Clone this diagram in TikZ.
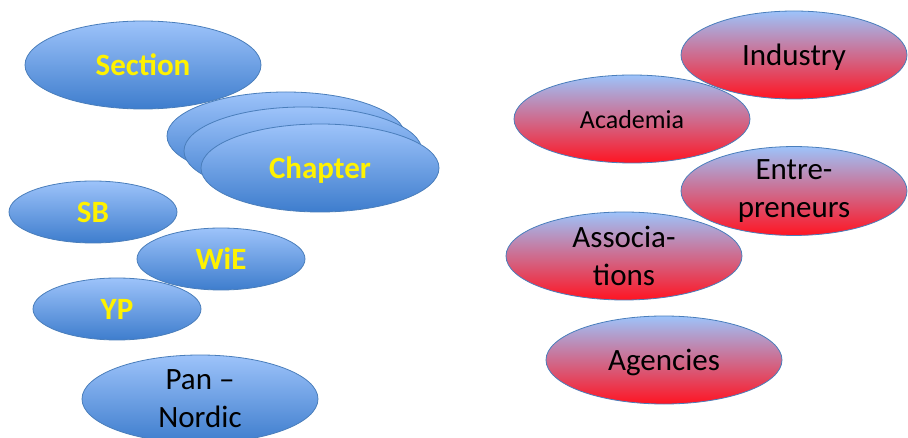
\documentclass[tikz,border=0pt]{standalone}
\usepackage{fontspec}
\setmainfont{Carlito}
\usepackage{xcolor}
\usetikzlibrary{shapes.geometric}

\definecolor{bluetop}{HTML}{9DC3FA}
\definecolor{bluebot}{HTML}{3E7DCD}
\definecolor{redbot}{HTML}{FF1422}
\definecolor{rimblue}{HTML}{4A7EBB}

\begin{document}
\begin{tikzpicture}[x = 1pt, y = -1pt,
        blob/.style = {ellipse, draw = rimblue, line width = 0.8pt, inner sep = 0pt, align = center,
            minimum width = 236pt, minimum height = 88pt},
        blueblob/.style = {blob, top color = bluetop, bottom color = bluebot, text = yellow,
            font = \fontsize{31}{38}\selectfont\bfseries},
        redblob/.style = {blob, top color = bluetop, bottom color = redbot, text = black,
            font = \fontsize{31}{38}\selectfont},
        small/.style = {minimum width = 168pt, minimum height = 62pt},
        oneline/.style = {text depth = 0pt}]
        \useasboundingbox (0,0) rectangle (908,438);

        \node [blueblob, oneline] (Sec) at (143,65) {Section};
        \node [blueblob, minimum width = 238pt] (ChB) at (286,136) {};
        \node [blueblob, minimum width = 238pt] (ChM) at (303,151) {};
        \node [blueblob, oneline, minimum width = 238pt] (Ch) at (320,168) {Chapter};
        \node [blueblob, small, oneline] (SB) at (93,212) {SB};
        \node [blueblob, small, oneline] (WiE) at (221,259) {WiE};
        \node [blueblob, small, oneline] (YP) at (117,309) {YP};
        \node [blueblob, font = \fontsize{31}{38}\selectfont, text = black] (Pan) at (200,399) {Pan –\\Nordic};

        \node [redblob, oneline, minimum width = 226pt] (Ind) at (794,55) {Industry};
        \node [redblob, oneline, font = \fontsize{26}{32}\selectfont] (Aca) at (632,119) {Academia};
        \node [redblob, minimum width = 226pt] (Ent) at (794,191) {Entre-\\preneurs};
        \node [redblob] (Ass) at (624,256) {Associa-\\tions};
        \node [redblob, oneline] (Age) at (664,360) {Agencies};
    \end{tikzpicture}
\end{document}
